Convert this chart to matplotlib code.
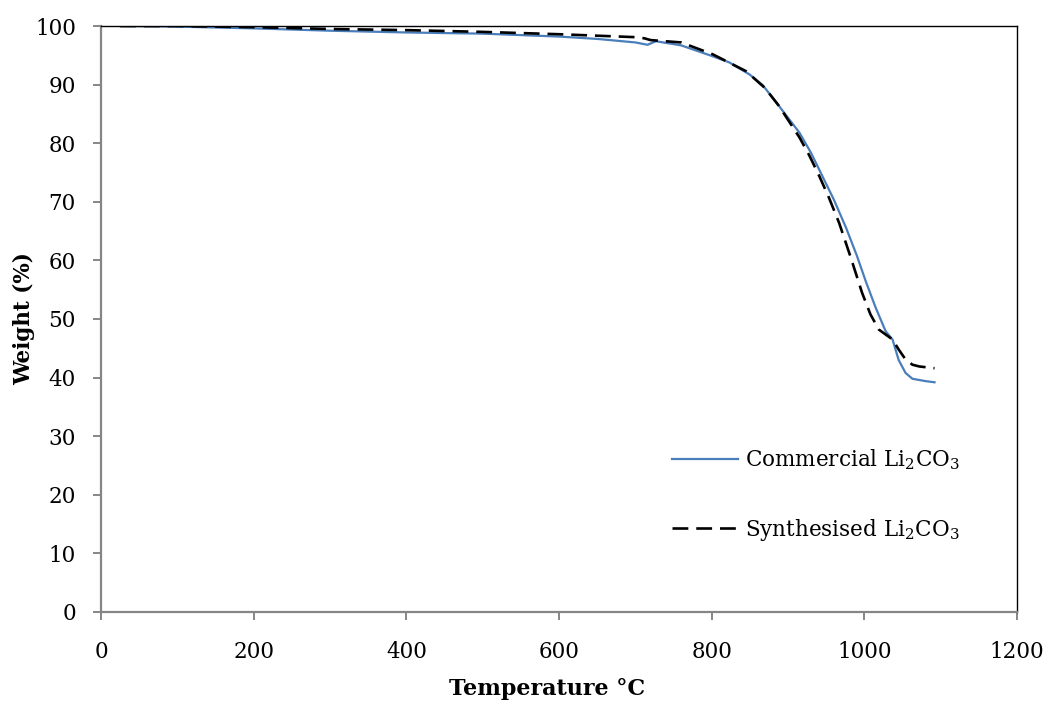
#!/usr/bin/env python3
"""TGA curves of commercial vs synthesised Li2CO3."""

import matplotlib
matplotlib.use('Agg')
import matplotlib.pyplot as plt

# Commercial Li2CO3 (solid blue)
comm_temp = [25, 100, 200, 300, 400, 500, 600, 650, 700, 716, 727, 760, 800,
             823, 850, 867, 888, 915, 930, 945, 960, 976, 990, 1002, 1015,
             1028, 1037, 1045, 1054, 1063, 1080, 1092]
comm_weight = [100, 99.9, 99.6, 99.2, 98.9, 98.7, 98.2, 97.8, 97.2, 96.8, 97.4,
               96.7, 94.9, 93.8, 91.7, 89.9, 86.4, 81.8, 78.4, 74.4, 70.4,
               65.6, 60.9, 56.4, 51.9, 47.9, 46.5, 43.0, 40.8, 39.8, 39.4,
               39.2]

# Synthesised Li2CO3 (dashed black)
syn_temp = [25, 100, 200, 300, 400, 500, 600, 700, 712, 720, 760, 801, 845,
            870, 888, 915, 928, 941, 954, 967, 982, 997, 1008, 1019, 1037,
            1045, 1054, 1063, 1072, 1092]
syn_weight = [100, 100, 99.8, 99.5, 99.3, 99.0, 98.6, 98.1, 97.9, 97.6, 97.2,
              95.2, 92.3, 89.4, 86.4, 81.0, 77.9, 74.4, 70.6, 66.4, 60.6,
              54.5, 50.8, 48.2, 46.5, 44.8, 43.1, 42.2, 41.9, 41.6]

x_ticks = [0, 200, 400, 600, 800, 1000, 1200]
y_ticks = [0, 10, 20, 30, 40, 50, 60, 70, 80, 90, 100]

plt.rcParams['font.family'] = ['DejaVu Serif']
plt.rcParams['mathtext.fontset'] = 'dejavuserif'

fig = plt.figure(figsize=(10.52, 7.13), dpi=100)
ax = fig.add_axes([0.096, 0.1417, 0.8707, 0.8218])

ax.plot(comm_temp, comm_weight, color='#4a7ebb', lw=1.6,
        label='Commercial Li$_2$CO$_3$')
ax.plot(syn_temp, syn_weight, color='black', lw=1.9, dashes=(6, 3),
        label='Synthesised Li$_2$CO$_3$')

ax.set_xlim(0, 1200)
ax.set_ylim(0, 100)
ax.set_xticks(x_ticks)
ax.set_yticks(y_ticks)

# excel-ish axes: gray left/bottom, thin black plot-area border
for side in ['left', 'bottom']:
    ax.spines[side].set_color('#868686')
    ax.spines[side].set_linewidth(1.6)
for side in ['top', 'right']:
    ax.spines[side].set_color('black')
    ax.spines[side].set_linewidth(1.0)

ax.tick_params(axis='both', which='major', labelsize=15.5, color='#868686',
               width=1.4, length=6, direction='out')
ax.tick_params(axis='y', pad=12)
ax.tick_params(axis='x', pad=15)
ax.tick_params(top=False, right=False)

ax.set_xlabel('Temperature °C', fontsize=16, fontweight='bold')
ax.set_ylabel('Weight (%)', fontsize=15.5, fontweight='bold')
ax.xaxis.set_label_coords(0.487, -0.113)
ax.yaxis.set_label_coords(-0.072, 0.5)

ax.legend(loc='center left', bbox_to_anchor=(0.623, 0.199), frameon=False,
          fontsize=15.5, handlelength=3.07, handletextpad=0.33,
          labelspacing=2.06, borderpad=0, borderaxespad=0)

plt.savefig('out.png', dpi=100)
plt.close()
